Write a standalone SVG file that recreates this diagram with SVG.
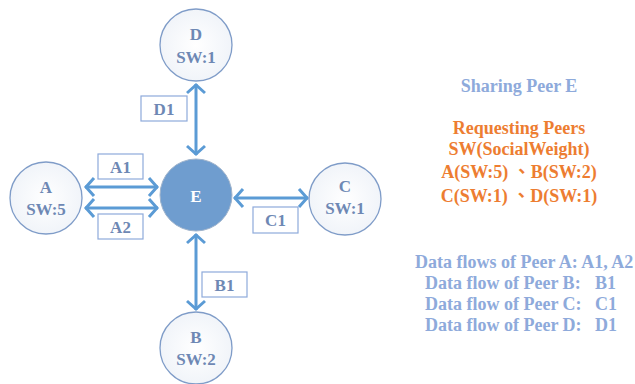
<svg xmlns="http://www.w3.org/2000/svg" width="635" height="384" viewBox="0 0 635 384">
<defs>
<radialGradient id="g" cx="50%" cy="50%" r="60%">
<stop offset="0" stop-color="#ffffff"/>
<stop offset="1" stop-color="#eef2f8"/>
</radialGradient>
<marker id="ch" markerUnits="userSpaceOnUse" markerWidth="20" markerHeight="20" viewBox="-12 -10 14 20" refX="0" refY="0" orient="auto-start-reverse">
<path d="M-9,-9 L-1,0 L-9,9" fill="none" stroke="#5b9bd5" stroke-width="3"/>
</marker>
<style>
.peer{fill:url(#g);stroke:#7f9cc8;stroke-width:1.3}
.e{fill:#6f9dcf;stroke:#a0b4cc;stroke-width:1}
.t{font-family:"Liberation Serif","Noto Sans CJK TC",serif;font-weight:bold;font-size:17px;text-anchor:middle}
.l{font-family:"Liberation Serif","Noto Sans CJK TC",serif;font-weight:bold;font-size:18px}
.pt{fill:#6e88b4}
.box{fill:#fff;stroke:#8eaadb;stroke-width:1.2}
.bt{fill:#6e88b4}
.arr{stroke:#5b9bd5;stroke-width:3;fill:none;marker-start:url(#ch);marker-end:url(#ch)}
.blue{fill:#8eaadb}
.or{fill:#ed7d31}
</style>
</defs>
<g id="connectors">
<line class="arr" x1="196" y1="84" x2="196" y2="155"/>
<line class="arr" x1="85" y1="187" x2="158" y2="187"/>
<line class="arr" x1="85" y1="208" x2="158" y2="208"/>
<line class="arr" x1="234" y1="198" x2="308" y2="198"/>
<line class="arr" x1="196" y1="234" x2="196" y2="310"/>
</g>
<g id="label-D1"><rect class="box" x="141" y="96" width="46" height="25"/><text class="t bt" x="164" y="115">D1</text></g>
<g id="label-A1"><rect class="box" x="98" y="154" width="45" height="25"/><text class="t bt" x="120.5" y="173">A1</text></g>
<g id="label-A2"><rect class="box" x="98" y="214" width="45" height="25"/><text class="t bt" x="120.5" y="233">A2</text></g>
<g id="label-C1"><rect class="box" x="253" y="207" width="45" height="26"/><text class="t bt" x="275.5" y="226">C1</text></g>
<g id="label-B1"><rect class="box" x="202" y="272" width="45" height="25"/><text class="t bt" x="224.5" y="291">B1</text></g>
<g id="node-D"><circle class="peer" cx="196" cy="45" r="36"/><text class="t pt" x="196" y="40">D</text><text class="t pt" x="196" y="63">SW:1</text></g>
<g id="node-A"><circle class="peer" cx="46" cy="198" r="36"/><text class="t pt" x="46" y="193">A</text><text class="t pt" x="46" y="215">SW:5</text></g>
<g id="node-E"><circle class="e" cx="196" cy="195" r="36"/><text class="t" fill="#ffffff" x="196" y="202">E</text></g>
<g id="node-C"><circle class="peer" cx="345" cy="199" r="36"/><text class="t pt" x="345" y="192">C</text><text class="t pt" x="345" y="214">SW:1</text></g>
<g id="node-B"><circle class="peer" cx="196" cy="348" r="36"/><text class="t pt" x="196" y="343">B</text><text class="t pt" x="196" y="365">SW:2</text></g>
<g id="legend">
<text class="l blue" x="519" y="92" text-anchor="middle">Sharing Peer E</text>
<text class="l or" x="519" y="134" text-anchor="middle">Requesting Peers</text>
<text class="l or" x="519" y="155" text-anchor="middle">SW(SocialWeight)</text>
<text class="l or" x="519" y="178" text-anchor="middle">A(SW:5) 、B(SW:2)</text>
<text class="l or" x="519" y="202" text-anchor="middle">C(SW:1) 、D(SW:1)</text>
<text class="l blue" x="415" y="268">Data flows of Peer A: A1, A2</text>
<text class="l blue" y="289"><tspan x="425">Data flow of Peer B:</tspan><tspan x="595">B1</tspan></text>
<text class="l blue" y="310"><tspan x="425">Data flow of Peer C:</tspan><tspan x="595">C1</tspan></text>
<text class="l blue" y="331"><tspan x="425">Data flow of Peer D:</tspan><tspan x="595">D1</tspan></text>
</g>
</svg>
